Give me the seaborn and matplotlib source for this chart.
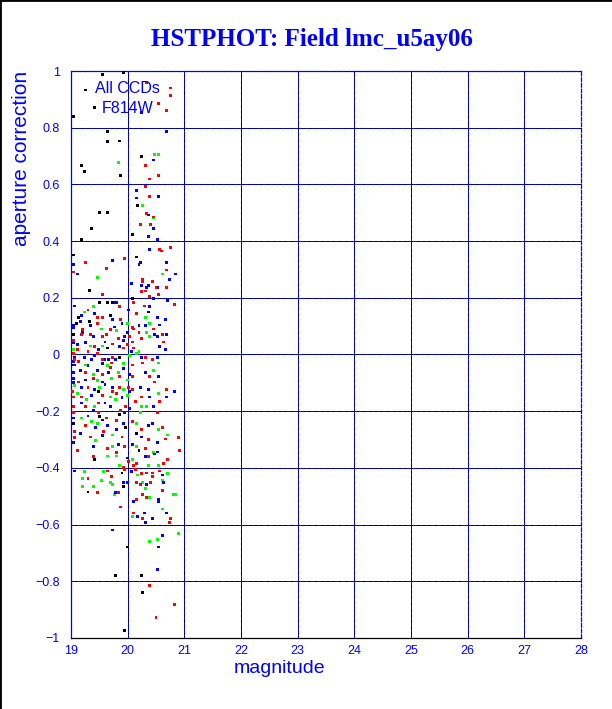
import matplotlib
matplotlib.use('Agg')
import matplotlib.pyplot as plt
from matplotlib.ticker import MultipleLocator
from matplotlib.lines import Line2D
import seaborn as sns
import pandas as pd

# aperture correction vs magnitude, one array pair per colour group
black_mag = [19.55, 19.92, 19.26, 19.41, 19.04, 19.64, 19.64, 19.85, 20.24, 19.18, 19.23, 19.88,
             20.08, 20.15, 20.08, 20.18, 19.51, 19.64, 19.74, 20.36, 19.69, 19.09, 19.04, 19.64,
             19.86, 19.04, 19.97, 20.16, 19.42, 20.20, 19.90, 19.30, 19.92, 19.99, 19.79, 20.24,
             20.27, 19.95, 19.51, 19.65, 19.37, 19.19, 19.05, 19.33, 19.05, 19.02,
             19.14, 19.32, 19.86, 19.48, 19.51]
black_apc = [0.989, 0.996, 0.933, 0.870, 0.838, 0.785, 0.750, 0.753, 0.697, 0.668, 0.647, 0.633,
             0.422, 0.344, 0.196, 0.524, 0.185, 0.185, 0.185, 0.150, 0.136, 0.108, 0.069, 0.023,
             -0.210, -0.242, -0.259, -0.280, -0.372, -0.340, -0.418, -0.485, -0.467, -0.679, -0.778, -0.781,
             -0.841, -0.975, 0.500, 0.500, 0.443, 0.404, 0.351, 0.227, -0.312, -0.037,
             0.129, 0.115, -0.009, -0.132, -0.220]

red_mag = [20.34, 20.75, 20.76, 20.54, 20.68, 20.32, 20.55, 20.38, 20.32, 20.38, 20.34, 20.45,
           20.41, 20.22, 20.75, 20.57, 20.59, 20.69, 20.27, 20.27, 20.43, 20.50, 20.68, 20.24,
           20.31, 20.39, 20.54,
           20.11, 20.29, 20.82, 19.46, 19.56, 20.16, 19.88, 19.46, 20.08, 20.11, 20.46, 19.21,
           19.69, 20.20, 20.61, 19.19, 19.55, 19.83, 20.04, 20.09, 20.24, 20.64, 19.42, 19.74,
           19.92, 20.11, 19.04, 19.12, 19.46, 19.56, 19.74, 20.32, 20.43, 20.27, 19.72, 20.09,
           19.25, 19.56, 19.86, 20.08, 20.38, 20.48, 19.14, 19.30, 19.85, 20.01, 20.09, 20.69,
           19.04, 19.56, 19.81, 20.25, 19.05, 19.26, 19.49, 19.97, 20.13, 20.57, 19.05, 19.49,
           20.52, 19.81, 20.08, 20.25, 20.62, 19.07, 19.34, 19.90, 20.36, 20.66, 19.95, 20.31,
           19.07, 20.89,
           19.12, 19.39, 19.81, 20.01, 20.16, 20.11, 20.36, 20.64, 20.71, 20.91, 19.72, 19.64,
           19.95, 19.92, 20.13, 20.25, 20.34, 20.43, 20.43, 20.57, 19.30, 19.46, 19.83, 20.15,
           20.22, 20.41, 20.27, 20.34, 20.62, 20.16, 19.88, 20.11, 20.27, 20.76, 20.73, 20.38,
           20.82, 20.50,
           19.26, 19.05, 19.62, 19.94, 19.55, 19.04, 19.02, 19.07,
           19.30, 19.85, 19.35, 19.62, 19.99, 19.30, 19.14, 19.69, 19.39, 19.74, 19.19, 19.88,
           19.62, 19.25, 19.58, 19.65]
red_apc = [0.961, 0.940, 0.915, 0.884, 0.862, 0.668, 0.633, 0.619, 0.591, 0.556, 0.499, 0.485,
           0.460, 0.457, 0.379, 0.369, 0.365, 0.298, 0.266, 0.259, 0.259, 0.238, 0.235, 0.221,
           0.224, 0.206, 0.213,
           0.182, 0.171, 0.175, 0.129, 0.129, 0.143, 0.125, 0.108, 0.094, 0.090, 0.090, 0.087,
           0.087, 0.076, 0.072, 0.069, 0.062, 0.055, 0.065, 0.044, 0.055, 0.044, 0.027, 0.037,
           0.023, 0.023, 0.051, 0.016, 0.002, -0.019, -0.009, -0.012, -0.019, -0.030, -0.030, -0.037,
           -0.062, -0.072, -0.079, -0.079, -0.079, -0.097, -0.097, -0.115, -0.115, -0.115, -0.122, -0.125,
           -0.150, -0.143, -0.139, -0.150, -0.185, -0.185, -0.171, -0.182, -0.167, -0.167, -0.206, -0.206,
           -0.206, -0.234, -0.238, -0.266, -0.256, -0.273, -0.291, -0.291, -0.301, -0.298, -0.326, -0.330,
           -0.294, -0.294,
           -0.340, -0.361, -0.347, -0.376, -0.383, -0.390, -0.361, -0.383, -0.372, -0.340, -0.432, -0.411,
           -0.404, -0.397, -0.404, -0.421, -0.418, -0.418, -0.432, -0.411, -0.439, -0.488, -0.488, -0.453,
           -0.457, -0.453, -0.495, -0.503, -0.481, -0.513, -0.538, -0.559, -0.577, -0.577, -0.591, -0.816,
           -0.883, -0.929,
           0.326, 0.291, 0.305, 0.340, 0.210, 0.005, -0.132, -0.019,
           0.157, 0.168, 0.072, 0.072, 0.034, 0.009, -0.026, -0.047, -0.083, -0.132, -0.150, -0.199,
           -0.224, -0.249, -0.270, -0.333]

blue_mag = [20.25, 20.69, 20.46, 20.15, 20.54, 20.16, 20.36, 20.45, 20.36, 20.52, 20.39, 20.22,
            20.20, 20.68, 20.84, 20.73, 20.06, 20.36, 20.34, 20.52, 20.25, 20.46,
            19.81, 20.71, 20.39, 19.19, 19.74, 20.52, 20.66, 19.16, 19.35, 19.90, 20.20, 20.31,
            20.57, 19.04, 19.21, 19.99, 20.69, 20.48, 19.39, 19.60, 19.92, 20.52, 19.86, 19.49,
            20.57, 20.66, 19.12, 19.07, 19.23, 19.37, 19.60, 19.67, 19.79, 20.25, 20.52, 19.07,
            19.56, 19.05, 19.16, 19.46, 19.67, 19.92, 20.31, 20.54, 19.05, 19.26, 19.55, 19.19,
            19.42, 19.74, 20.22, 20.36, 20.82, 19.37, 19.90, 20.38, 20.69, 19.18, 19.60, 20.04,
            20.46, 19.39, 19.95, 19.56, 19.65, 19.92, 20.36, 20.43, 19.44, 19.16, 19.56, 20.25,
            20.52, 20.08, 19.39,
            19.99, 20.31, 20.52, 20.48, 19.07, 20.06, 20.62, 19.92, 19.99, 19.79, 19.99, 20.34,
            20.64, 20.55, 20.11, 20.55, 20.29, 20.43, 20.18, 20.31, 20.69, 19.74, 20.61, 20.55,
            20.52,
            19.05, 19.11, 19.74, 19.79, 19.04, 19.05, 19.04, 19.05, 19.04, 19.02,
            19.07, 19.42, 20.01, 19.76, 19.94, 19.26, 20.06, 19.42, 19.30, 20.04, 19.60, 20.04,
            19.69, 19.30, 19.81, 19.83]
blue_apc = [0.852, 0.788, 0.686, 0.580, 0.556, 0.552, 0.492, 0.446, 0.415, 0.404, 0.369, 0.326,
            0.319, 0.326, 0.284, 0.263, 0.252, 0.245, 0.238, 0.235, 0.245, 0.199,
            0.182, 0.189, 0.168, 0.139, 0.125, 0.129, 0.122, 0.115, 0.101, 0.111, 0.101, 0.101,
            0.104, 0.094, 0.076, 0.079, 0.072, 0.072, 0.062, 0.044, 0.048, 0.062, 0.027, 0.019,
            0.027, 0.019, 0.034, -0.009, -0.009, -0.016, -0.019, -0.019, -0.016, -0.009, -0.012, -0.037,
            -0.033, -0.065, -0.055, -0.055, -0.062, -0.051, -0.065, -0.079, -0.086, -0.090, -0.097, -0.118,
            -0.122, -0.115, -0.115, -0.125, -0.129, -0.143, -0.153, -0.150, -0.150, -0.171, -0.171, -0.189,
            -0.182, -0.196, -0.206, -0.231, -0.249, -0.245, -0.249, -0.245, -0.256, -0.277, -0.287, -0.291,
            -0.309, -0.319, -0.326,
            -0.365, -0.361, -0.344, -0.351, -0.411, -0.414, -0.425, -0.450, -0.450, -0.488, -0.453, -0.460,
            -0.453, -0.513, -0.517, -0.520, -0.559, -0.577, -0.573, -0.594, -0.559, -0.619, -0.637, -0.679,
            -0.760,
            0.319, 0.284, 0.333, 0.185, 0.104, 0.041, -0.026, -0.100, -0.224, -0.312,
            0.171, 0.146, 0.157, 0.097, 0.065, 0.041, 0.009, -0.002, -0.040, -0.072, -0.107, -0.132,
            -0.185, -0.217, -0.266, -0.319]

green_mag = [20.48, 20.55, 19.83, 20.27, 20.45, 20.62,
             19.39, 20.32, 19.99, 20.39, 19.81, 20.34, 20.38, 19.35, 20.20, 20.04, 20.16, 20.55,
             19.25, 19.92, 19.39, 19.72, 19.99, 20.45, 19.46, 19.07, 19.51, 19.92, 20.54, 19.12,
             19.69, 19.99, 19.79, 19.42, 20.25, 20.34, 20.22, 19.37, 19.46, 20.16, 20.55, 19.74,
             20.71, 20.15, 19.74,
             19.65, 19.81, 20.08, 20.45, 20.54, 20.36, 19.86, 19.23, 19.58, 20.18, 20.71, 20.62,
             19.21, 19.53, 19.21, 19.39, 19.69, 19.74, 19.76, 20.27, 20.32, 20.39, 20.80, 20.84,
             20.61, 20.09, 20.89, 20.52, 20.38,
             19.46, 19.04,
             19.23, 19.53, 19.55, 19.83, 19.64, 19.28, 19.18, 19.44]
green_apc = [0.707, 0.707, 0.676, 0.527, 0.482, 0.284,
             0.168, 0.132, 0.111, 0.111, 0.083, 0.079, 0.062, 0.030, 0.009, -0.005, 0.005, -0.030,
             -0.037, -0.033, -0.072, -0.086, -0.090, -0.055, -0.093, -0.111, -0.115, -0.125, -0.136, -0.136,
             -0.150, -0.146, -0.160, -0.185, -0.182, -0.185, -0.203, -0.238, -0.242, -0.245, -0.263, -0.284,
             -0.284, -0.326, -0.326,
             -0.358, -0.358, -0.369, -0.347, -0.393, -0.390, -0.390, -0.414, -0.414, -0.425, -0.421, -0.446,
             -0.439, -0.446, -0.464, -0.467, -0.453, -0.457, -0.495, -0.453, -0.474, -0.503, -0.495, -0.495,
             -0.545, -0.573, -0.630, -0.651, -0.661,
             0.270, 0.016,
             0.150, 0.090, 0.030, -0.062, -0.040, -0.160, -0.224, -0.305]

groups = ['black', 'green', 'blue', 'red']
colors = {'black': '#000000', 'green': '#00ff00', 'blue': '#0000ff', 'red': '#ff0000'}

frames = []
for name, mag, apc in [('black', black_mag, black_apc), ('green', green_mag, green_apc),
                       ('blue', blue_mag, blue_apc), ('red', red_mag, red_apc)]:
    frames.append(pd.DataFrame({'magnitude': mag, 'apcor': apc, 'group': name}))
df = pd.concat(frames, ignore_index=True)

sns.set_style('white')
plt.rcParams['font.family'] = ['Liberation Sans', 'DejaVu Sans']

fig = plt.figure(figsize=(6.12, 7.09), dpi=100)
ax = fig.add_axes([71 / 612, 1 - 638 / 709, 510 / 612, 567 / 709])

sns.scatterplot(data=df, x='magnitude', y='apcor', hue='group', hue_order=groups,
                palette=colors, marker='s', s=4.5, linewidth=0, legend=False, ax=ax, zorder=3)

ax.set_xlim(19, 28)
ax.set_ylim(-1, 1)
ax.xaxis.set_major_locator(MultipleLocator(1))
ax.xaxis.set_minor_locator(MultipleLocator(0.2))
ax.yaxis.set_major_locator(MultipleLocator(0.2))
ax.yaxis.set_minor_locator(MultipleLocator(0.05))
ax.yaxis.set_major_formatter(matplotlib.ticker.FuncFormatter(
    lambda v, p: '0' if abs(v) < 1e-9 else ('%g' % round(v, 1)).replace('-', '\u2212')))

ax.tick_params(axis='both', which='both', direction='in', colors='blue', labelsize=9,
               top=False, right=False)
ax.tick_params(axis='x', which='major', length=8, pad=5)
ax.tick_params(axis='x', which='minor', length=4)
ax.tick_params(axis='y', which='major', length=7, pad=8)
ax.tick_params(axis='y', which='minor', length=3.5)

# dotted grid: blue dashes with black gaps
ax.set_axisbelow(True)
ax.grid(True, which='major', color='blue', linestyle=(0, (2.2, 1.5)), gapcolor='black',
        linewidth=1.0, antialiased=False)

ax.spines['left'].set_color('blue')
ax.spines['bottom'].set_color('black')
for side in ['top', 'right']:
    ax.spines[side].set_color('blue')
    ax.spines[side].set_linestyle((0, (3, 1.5)))
for sp in ax.spines.values():
    sp.set_linewidth(0.9)

ax.set_xlabel('magnitude', fontsize=14, color='blue', ha='right', va='top')
ax.xaxis.set_label_coords(254 / 510, -22 / 567)
ax.set_ylabel('aperture correction', fontsize=15, color='blue', ha='right', va='center')
ax.yaxis.set_label_coords(-49 / 510, 1.0)

# legend text in the upper left
ax.text(24 / 510, 1 - 22 / 567, 'All CCDs', transform=ax.transAxes, fontsize=11.5,
        color='blue', ha='left', va='baseline')
ax.text(31 / 510, 1 - 42 / 567, 'F814W', transform=ax.transAxes, fontsize=11.5,
        color='blue', ha='left', va='baseline')

fig.text(311.5 / 612, 1 - 46 / 709, 'HSTPHOT: Field lmc_u5ay06', ha='center', va='baseline',
         fontsize=18, fontweight='bold', family='Liberation Serif', color='blue')

# canvas edge on the top and left
fig.add_artist(Line2D([0, 0], [0, 1], transform=fig.transFigure, color='black', lw=2))
fig.add_artist(Line2D([0, 1], [1, 1], transform=fig.transFigure, color='black', lw=2))

fig.savefig('out.png', dpi=100)
